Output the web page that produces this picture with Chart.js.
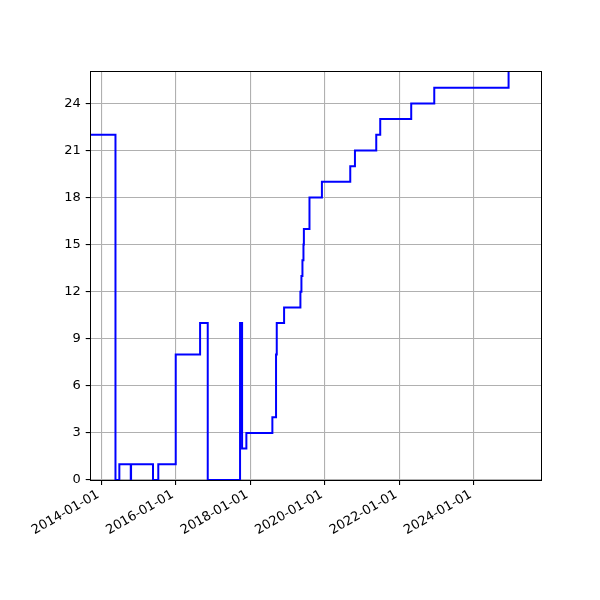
<!DOCTYPE html>
<html>
<head>
<meta charset="utf-8">
<script src="https://cdn.jsdelivr.net/npm/chart.js@4.4.1/dist/chart.umd.min.js"></script>
<style>
html,body{margin:0;padding:0;background:#fff;}
canvas{display:block;}
</style>
</head>
<body>
<canvas id="c" width="600" height="600"></canvas>
<script>
// Step series: each date is where the value starts
const stepDates = [
  '2013-09-19','2014-05-20','2014-06-27','2014-10-17','2014-10-20','2015-05-23','2015-07-14',
  '2016-01-01','2016-08-27','2016-11-10','2017-09-23','2017-09-30','2017-10-04','2017-10-08',
  '2017-10-10','2017-10-13',
  '2017-11-24','2018-08-06','2018-09-11','2018-09-18','2018-11-29','2019-05-08','2019-05-18',
  '2019-05-28','2019-06-07','2019-06-11','2019-08-05','2019-12-05','2020-09-08','2020-10-24',
  '2021-05-21','2021-06-29','2022-04-29','2022-12-11','2024-12-09','2025-10-23'
];
const stepValues = [
  22, 0, 1, 0, 1, 0, 1,
  8, 10, 0, 10, 3, 10, 3,
  10, 2,
  3, 4, 8, 10, 11, 12, 13,
  14, 15, 16, 18, 19, 20, 21,
  22, 23, 24, 25, 27, 27
];
const xTickLabels = ['2014-01-01','2016-01-01','2018-01-01','2020-01-01','2022-01-01','2024-01-01'];
const yTickValues = [0, 3, 6, 9, 12, 15, 18, 21, 24];
const xRange = ['2013-09-19', '2025-10-23'];
const yRange = [0, 26];

function toMs(s){ const p = s.split('-').map(Number); return Date.UTC(p[0], p[1]-1, p[2]); }
function fmt(ms){ const d = new Date(ms); const m = String(d.getUTCMonth()+1).padStart(2,'0'); const dd = String(d.getUTCDate()).padStart(2,'0'); return d.getUTCFullYear()+'-'+m+'-'+dd; }

const points = stepDates.map((d, i) => ({x: toMs(d), y: stepValues[i]}));

const framePlugin = {
  id: 'frame',
  afterDraw(chart){
    const {ctx, chartArea: a} = chart;
    ctx.save();
    ctx.strokeStyle = '#000';
    ctx.lineWidth = 1;
    ctx.strokeRect(Math.round(a.left) - 0.5, Math.round(a.top) - 0.5,
                   Math.round(a.right) - Math.round(a.left) + 1, Math.round(a.bottom) - Math.round(a.top) + 1);
    ctx.restore();
  }
};

const font = {family: 'DejaVu Sans', size: 13};

new Chart(document.getElementById('c'), {
  type: 'line',
  data: {
    datasets: [{
      data: points,
      stepped: true,
      borderColor: '#0000ff',
      borderWidth: 2,
      pointRadius: 0,
      fill: false,
      tension: 0,
      clip: 0
    }]
  },
  options: {
    responsive: false,
    animation: false,
    layout: {padding: {left: 0, top: 72, right: 59, bottom: 0}},
    plugins: {legend: {display: false}, tooltip: {enabled: false}},
    scales: {
      x: {
        type: 'linear',
        min: toMs(xRange[0]),
        max: toMs(xRange[1]),
        afterBuildTicks(scale){ scale.ticks = xTickLabels.map(s => ({value: toMs(s)})); },
        afterFit(scale){ scale.height = 120; },
        ticks: {
          callback: (v) => fmt(v),
          minRotation: 30, maxRotation: 30,
          autoSkip: false,
          color: '#000',
          font: font,
          padding: 2,
          labelOffset: -3
        },
        grid: {color: '#b0b0b0', lineWidth: 1.1, tickColor: '#000', tickLength: 5, tickWidth: 1.1},
        border: {display: false}
      },
      y: {
        type: 'linear',
        min: yRange[0],
        max: yRange[1],
        afterBuildTicks(scale){ scale.ticks = yTickValues.map(v => ({value: v})); },
        afterFit(scale){ scale.width = 90.7; },
        ticks: {color: '#000', font: font, padding: 5},
        grid: {color: '#b0b0b0', lineWidth: 1.1, tickColor: '#000', tickLength: 5, tickWidth: 1.1},
        border: {display: false}
      }
    }
  },
  plugins: [framePlugin]
});
</script>
</body>
</html>
